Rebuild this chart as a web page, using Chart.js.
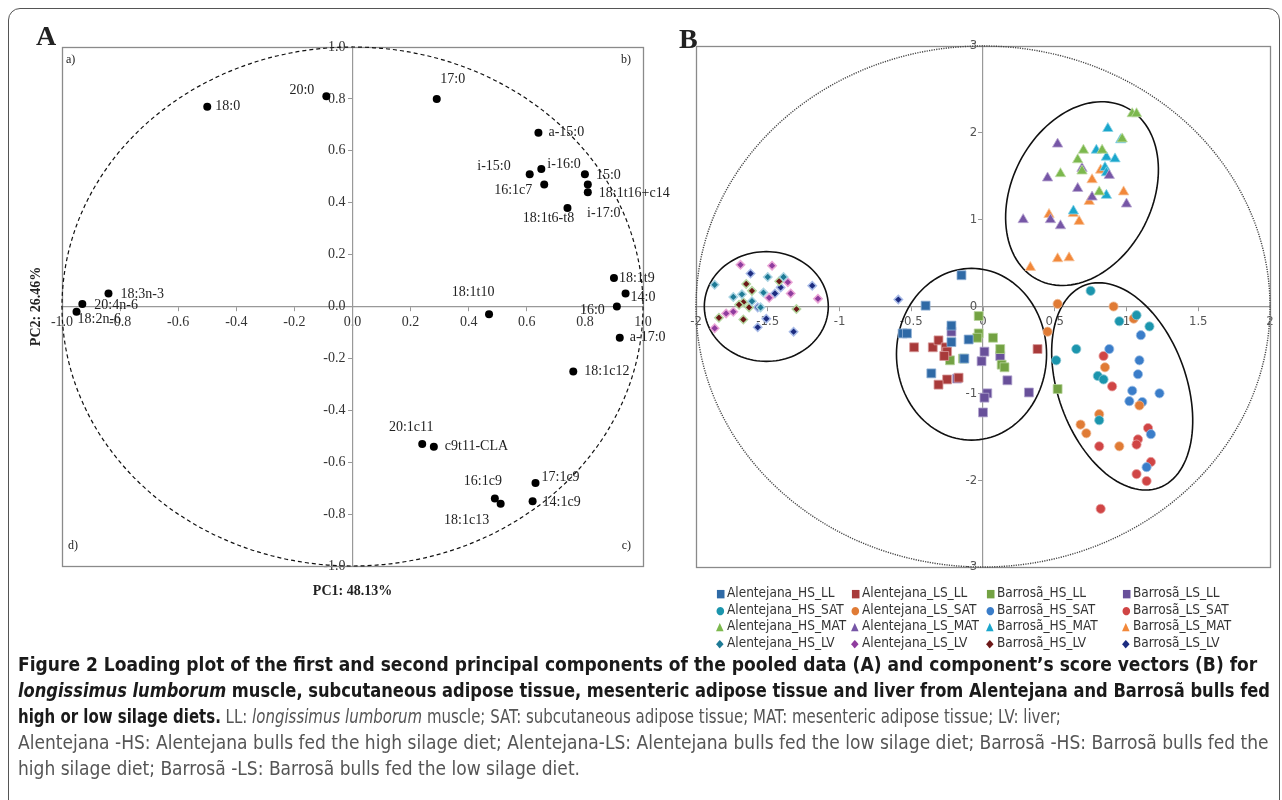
<!DOCTYPE html>
<html lang="en">
<head>
<meta charset="UTF-8">
<title>Figure 2 PCA</title>
<script src="https://cdn.jsdelivr.net/npm/chart.js"></script>
<style>
  body { margin: 0; background: #fff; width: 1282px; height: 800px; overflow: hidden; position: relative; }
  #frame { position: absolute; left: 8px; top: 8px; width: 1270px; height: 820px; border: 1.5px solid #555; border-radius: 12px; }
  .panel { position: absolute; font-family: "Liberation Serif", serif; font-weight: bold; font-size: 28px; color: #222; }
  #chartA { position: absolute; left: 0; top: 0; }
  #chartB { position: absolute; left: 660px; top: 0; }
  #legendB { position: absolute; left: 716px; top: 584px; display: grid; grid-template-columns: 135px 135px 136px 140px; row-gap: 0; font-family: "Liberation Sans Narrow", "DejaVu Sans Condensed", "Open Sans", sans-serif; font-size: 13.5px; color: #333; }
  #legendB div { height: 16.7px; line-height: 16.7px; white-space: nowrap; }
  #legendB span { display: inline-block; width: 11px; font-size: 11px; }
  #caption { position: absolute; left: 18px; top: 651px; font-family: "Liberation Sans Narrow", "DejaVu Sans Condensed", sans-serif; font-size: 19px; color: #555; }
  #caption div { height: 26px; line-height: 26px; white-space: nowrap; transform-origin: left center; }
  #caption b { color: #1a1a1a; }
  #caption .l2 { transform: scaleX(0.953); }
  #caption .l3 { transform: scaleX(0.876); }
</style>
</head>
<body>
<div id="frame"></div>
<canvas id="chartA" width="700" height="620"></canvas>
<canvas id="chartB" width="622" height="580"></canvas>
<div class="panel" style="left:36px;top:20px;">A</div>
<div class="panel" style="left:679px;top:23px;">B</div>
<div id="legendB"></div>
<div id="caption">
  <div class="l1"><b>Figure 2 Loading plot of the first and second principal components of the pooled data (A) and component’s score vectors (B) for</b></div>
  <div class="l2"><b><i>longissimus lumborum</i> muscle, subcutaneous adipose tissue, mesenteric adipose tissue and liver from Alentejana and Barrosã bulls fed</b></div>
  <div class="l3"><b>high or low silage diets.</b> LL: <i>longissimus lumborum</i> muscle; SAT: subcutaneous adipose tissue; MAT: mesenteric adipose tissue; LV: liver;</div>
  <div class="l4">Alentejana -HS: Alentejana bulls fed the high silage diet; Alentejana-LS: Alentejana bulls fed the low silage diet; Barrosã -HS: Barrosã bulls fed the</div>
  <div class="l5">high silage diet; Barrosã -LS: Barrosã bulls fed the low silage diet.</div>
</div>
<script>
// ---------- panel A: loadings ----------
const faNames = ['18:0','20:0','17:0','a-15:0','i-15:0','i-16:0','16:1c7','15:0','18:1t16+c14','i-17:0','18:1t6-t8',
  '18:1t9','14:0','16:0','18:1t10','a-17:0','18:1c12','20:1c11','c9t11-CLA','16:1c9','18:1c13','17:1c9','14:1c9',
  '18:3n-3','20:4n-6','18:2n-6'];
const pc1 = [-0.50,-0.09,0.29,0.64,0.61,0.65,0.66,0.80,0.81,0.81,0.74,0.90,0.94,0.91,0.47,0.92,0.76,0.24,0.28,0.49,0.51,0.63,0.62,-0.84,-0.93,-0.95];
const pc2 = [0.77,0.81,0.80,0.67,0.51,0.53,0.47,0.51,0.47,0.44,0.38,0.11,0.05,0.00,-0.03,-0.12,-0.25,-0.53,-0.54,-0.74,-0.76,-0.68,-0.75,0.05,0.01,-0.02];
// where each name sits next to its dot: [align, dx, dy]
const labelSpot = [['left',8,0],['right',-12,-6],['center',16,-20],['left',10,0],['right',-19,-8],['left',6,-5],
  ['right',-12,6],['left',11,1],['left',11,9],['center',16,21],['center',-19,10],['left',5,0],['left',5,4],
  ['right',-12,4],['center',-16,-22],['left',10,0],['left',11,0],['center',-11,-17],['left',11,0],['center',-12,-17],
  ['center',-34,17],['left',6,-6],['left',10,1],['left',12,1],['left',12,1],['left',1,8]];
const quadrants = ['a)','b)','c)','d)'];

// ---------- panel B: scores ----------
const groups = ['Alentejana_HS_LL','Alentejana_LS_LL','Barrosã_HS_LL','Barrosã_LS_LL',
  'Alentejana_HS_SAT','Alentejana_LS_SAT','Barrosã_HS_SAT','Barrosã_LS_SAT',
  'Alentejana_HS_MAT','Alentejana_LS_MAT','Barrosã_HS_MAT','Barrosã_LS_MAT',
  'Alentejana_HS_LV','Alentejana_LS_LV','Barrosã_HS_LV','Barrosã_LS_LV'];
const scoreX = [
  [-0.40,-0.56,-0.53,-0.22,-0.22,-0.10,-0.13,-0.36,-0.15],
  [-0.48,-0.35,-0.31,-0.26,-0.25,-0.27,-0.17,-0.25,-0.31,0.38],
  [-0.03,-0.03,-0.04,0.07,0.12,0.13,0.15,-0.23,-0.14,0.52],
  [-0.22,0.01,-0.01,0.12,0.17,-0.18,0.03,0.01,0.00,0.32],
  [0.75,1.07,0.95,1.16,0.65,0.51,0.80,0.84,0.81],
  [0.52,0.91,1.05,0.45,0.85,1.09,0.81,0.68,0.72,0.95],
  [1.10,0.88,1.09,1.08,1.04,1.02,1.11,1.23,1.17,1.14],
  [0.84,0.90,1.15,1.08,1.07,0.81,1.17,1.07,1.14,0.82],
  [1.04,1.07,0.97,0.70,0.83,0.66,0.69,0.54,0.81],
  [0.52,0.45,0.69,0.88,0.66,0.76,1.00,0.28,0.47,0.54],
  [0.87,0.96,0.79,0.86,0.92,0.85,0.86,0.86,0.63],
  [0.82,0.76,0.98,0.74,0.46,0.63,0.67,0.52,0.60,0.33],
  [-1.87,-1.74,-1.68,-1.61,-1.50,-1.39,-1.53,-1.55],
  [-1.69,-1.47,-1.36,-1.34,-1.15,-1.49,-1.74,-1.79,-1.87],
  [-1.65,-1.61,-1.67,-1.70,-1.63,-1.42,-1.84,-1.67,-1.30],
  [-1.62,-1.45,-1.41,-1.19,-1.57,-1.51,-1.57,-1.32,-0.59]
];
const scoreY = [
  [0.01,-0.31,-0.31,-0.22,-0.41,-0.38,-0.60,-0.77,0.36],
  [-0.47,-0.47,-0.39,-0.47,-0.52,-0.57,-0.82,-0.84,-0.90,-0.49],
  [-0.11,-0.31,-0.36,-0.36,-0.49,-0.67,-0.70,-0.62,-0.60,-0.95],
  [-0.29,-0.52,-0.63,-0.57,-0.85,-0.83,-1.00,-1.05,-1.22,-0.99],
  [0.18,-0.10,-0.17,-0.23,-0.49,-0.62,-0.80,-0.84,-1.31],
  [0.03,0.00,-0.14,-0.29,-0.70,-1.14,-1.24,-1.36,-1.46,-1.61],
  [-0.33,-0.49,-0.62,-0.78,-0.97,-1.09,-1.10,-1.00,-1.47,-1.85],
  [-0.57,-0.92,-1.40,-1.53,-1.59,-1.61,-1.79,-1.93,-2.01,-2.33],
  [2.22,2.22,1.93,1.80,1.80,1.69,1.56,1.53,1.32],
  [1.87,1.48,1.59,1.51,1.36,1.26,1.18,1.00,1.00,0.93],
  [2.05,1.92,1.80,1.72,1.70,1.60,1.54,1.28,1.10],
  [1.57,1.46,1.32,1.21,1.06,1.07,0.98,0.55,0.56,0.45],
  [0.25,0.11,0.14,0.06,0.34,0.34,0.16,-0.01],
  [0.48,0.47,0.28,0.15,0.09,0.10,-0.06,-0.08,-0.25],
  [0.26,0.18,0.05,0.02,-0.01,0.29,-0.13,-0.15,-0.03],
  [0.38,0.15,0.22,0.24,-0.01,-0.14,-0.24,-0.29,0.08]
];
const groupColor = ['#2f6aa6','#a83a3a','#73a243','#68509a',
  '#1b95ad','#e07b35','#3a7dc9','#d04545',
  '#7cb84d','#7656a6','#1aa6cc','#f2883a',
  '#1e7a95','#8f3c9e','#6c1818','#1c2c80'];
const groupEdge = ['#8fb0d6','#d89a9a','#b8d49c','#b3a6cf',
  '#8fcad6','#f0bd98','#9dbfe6','#e8a2a2',
  '#bfdca6','#bbaad3','#8dd3e6','#f8c49c',
  '#a9d3e2','#eaa6d6','#b5d7a2','#a9bce8'];
const groupShape = ['rect','rect','rect','rect','circle','circle','circle','circle',
  'triangle','triangle','triangle','triangle','rectRot','rectRot','rectRot','rectRot'];
const shapeSize = { rect: 6.3, circle: 4.6, triangle: 6, rectRot: 4.2 };
const shapeGlyph = { rect: '■', circle: '●', triangle: '▲', rectRot: '◆' };
// cluster rings: centre + two conjugate half-axes, all in score units
const rings = [
  { cx: -1.51, cy: 0.00, ux: 0.432, uy: 0, vx: 0, vy: 0.632 },
  { cx: -0.08, cy: -0.55, ux: 0.523, uy: 0, vx: 0, vy: 0.989 },
  { cx: 0.69, cy: 1.30, ux: 0.307, uy: 0.993, vx: 0.435, vy: -0.365 },
  { cx: 0.97, cy: -0.92, ux: 0.257, uy: -1.167, vx: -0.419, vy: -0.252 }
];

const serif = 'Liberation Serif';
const sansTick = 'Liberation Sans Narrow, DejaVu Sans Condensed, Open Sans, sans-serif';
const gap = '\u2002'; // keeps y tick labels off the centre axis

function unitEllipse(chart, rx, ry, dash, color, width) {
  const {ctx, scales: {x, y}} = chart;
  const cx = x.getPixelForValue(0), cy = y.getPixelForValue(0);
  ctx.save();
  ctx.beginPath();
  ctx.setLineDash(dash);
  ctx.strokeStyle = color;
  ctx.lineWidth = width;
  ctx.ellipse(cx, cy, x.getPixelForValue(rx) - cx, cy - y.getPixelForValue(ry), 0, 0, Math.PI * 2);
  ctx.stroke();
  ctx.restore();
}

function boxPlugin(color) {
  return {
    id: 'box',
    beforeDatasetsDraw(chart) {
      const {ctx, chartArea: a} = chart;
      ctx.save();
      ctx.strokeStyle = color;
      ctx.lineWidth = 1.3;
      ctx.strokeRect(a.left + 0.5, a.top + 0.5, a.right - a.left, a.bottom - a.top);
      ctx.restore();
    }
  };
}

const loadingDecor = {
  id: 'loadingDecor',
  beforeDatasetsDraw(chart) {
    unitEllipse(chart, 1, 1, [4, 3], '#111', 1.2);
    const {ctx, chartArea: a} = chart;
    ctx.save();
    ctx.fillStyle = '#222';
    ctx.font = '12px ' + serif;
    ctx.textBaseline = 'middle';
    ctx.textAlign = 'left';
    ctx.fillText(quadrants[0], a.left + 4, a.top + 13);
    ctx.fillText(quadrants[3], a.left + 6, a.bottom - 20);
    ctx.textAlign = 'right';
    ctx.fillText(quadrants[1], a.right - 12, a.top + 13);
    ctx.fillText(quadrants[2], a.right - 12, a.bottom - 20);
    // axis titles
    ctx.font = 'bold 14px ' + serif;
    ctx.fillStyle = '#222';
    ctx.textAlign = 'center';
    ctx.fillText('PC1: 48.13%', (a.left + a.right) / 2, a.bottom + 25);
    ctx.translate(36, chart.scales.y.getPixelForValue(0));
    ctx.rotate(-Math.PI / 2);
    ctx.fillText('PC2: 26.46%', 0, 0);
    ctx.restore();
  },
  afterDatasetsDraw(chart) {
    const {ctx} = chart;
    const pts = chart.getDatasetMeta(0).data;
    ctx.save();
    ctx.font = '14px ' + serif;
    ctx.fillStyle = '#222';
    ctx.textBaseline = 'middle';
    pts.forEach((p, i) => {
      const [al, dx, dy] = labelSpot[i];
      ctx.textAlign = al;
      ctx.fillText(faNames[i], p.x + dx, p.y + dy);
    });
    ctx.restore();
  }
};

const scoreDecor = {
  id: 'scoreDecor',
  beforeDatasetsDraw(chart) {
    unitEllipse(chart, 2, 3, [1.2, 1.2], '#444', 1.4);
    const {ctx, scales: {x, y}} = chart;
    ctx.save();
    ctx.strokeStyle = '#111';
    ctx.lineWidth = 1.6;
    rings.forEach(r => {
      ctx.beginPath();
      for (let k = 0; k <= 120; k++) {
        const t = k / 120 * Math.PI * 2;
        const px = x.getPixelForValue(r.cx + r.ux * Math.cos(t) + r.vx * Math.sin(t));
        const py = y.getPixelForValue(r.cy + r.uy * Math.cos(t) + r.vy * Math.sin(t));
        if (k === 0) ctx.moveTo(px, py); else ctx.lineTo(px, py);
      }
      ctx.closePath();
      ctx.stroke();
    });
    ctx.restore();
  }
};

function centreAxis(min, max, step, other, font, fmt, color) {
  return {
    type: 'linear', min: min, max: max, position: other,
    ticks: { stepSize: step, color: color, font: font, padding: 3, callback: fmt, autoSkip: false },
    grid: { drawOnChartArea: false, tickLength: 4, color: '#999' },
    border: { color: '#999', width: 1.2 }
  };
}

new Chart(document.getElementById('chartA'), {
  type: 'scatter',
  data: {
    datasets: [{
      data: pc1.map((v, i) => ({ x: v, y: pc2[i] })),
      backgroundColor: '#000', borderColor: '#000', pointRadius: 4, borderWidth: 0
    }]
  },
  options: {
    responsive: false, animation: false, events: [],
    layout: { padding: { left: 62, top: 47, right: 57, bottom: 54 } },
    plugins: { legend: { display: false }, tooltip: { enabled: false } },
    scales: {
      x: centreAxis(-1, 1, 0.2, { y: 0 }, { family: serif, size: 14 }, v => v.toFixed(1), '#333'),
      y: centreAxis(-1, 1, 0.2, { x: 0 }, { family: serif, size: 14 }, v => v.toFixed(1) + gap, '#333')
    }
  },
  plugins: [boxPlugin('#8a8a8a'), loadingDecor]
});

new Chart(document.getElementById('chartB'), {
  type: 'scatter',
  data: {
    datasets: groups.map((g, i) => ({
      label: g,
      data: scoreX[i].map((v, j) => ({ x: v, y: scoreY[i][j] })),
      pointStyle: groupShape[i],
      pointRadius: shapeSize[groupShape[i]],
      backgroundColor: groupColor[i],
      borderColor: groupEdge[i],
      borderWidth: groupShape[i] === 'rectRot' ? 1.5 : 0.8
    }))
  },
  options: {
    responsive: false, animation: false, events: [],
    layout: { padding: { left: 36, top: 46, right: 12, bottom: 13 } },
    plugins: { legend: { display: false }, tooltip: { enabled: false } },
    scales: {
      x: centreAxis(-2, 2, 0.5, { y: 0 }, { family: sansTick, size: 13 }, v => String(v), '#555'),
      y: centreAxis(-3, 3, 1, { x: 0 }, { family: sansTick, size: 13 }, v => String(v) + gap, '#555')
    }
  },
  plugins: [boxPlugin('#8a8a8a'), scoreDecor]
});

// legend for B, laid out in 4 columns like the original
const legendBox = document.getElementById('legendB');
groups.forEach((g, i) => {
  const cell = document.createElement('div');
  const mark = document.createElement('span');
  mark.textContent = shapeGlyph[groupShape[i]];
  mark.style.color = groupColor[i];
  cell.appendChild(mark);
  cell.appendChild(document.createTextNode(g));
  legendBox.appendChild(cell);
});
</script>
</body>
</html>
